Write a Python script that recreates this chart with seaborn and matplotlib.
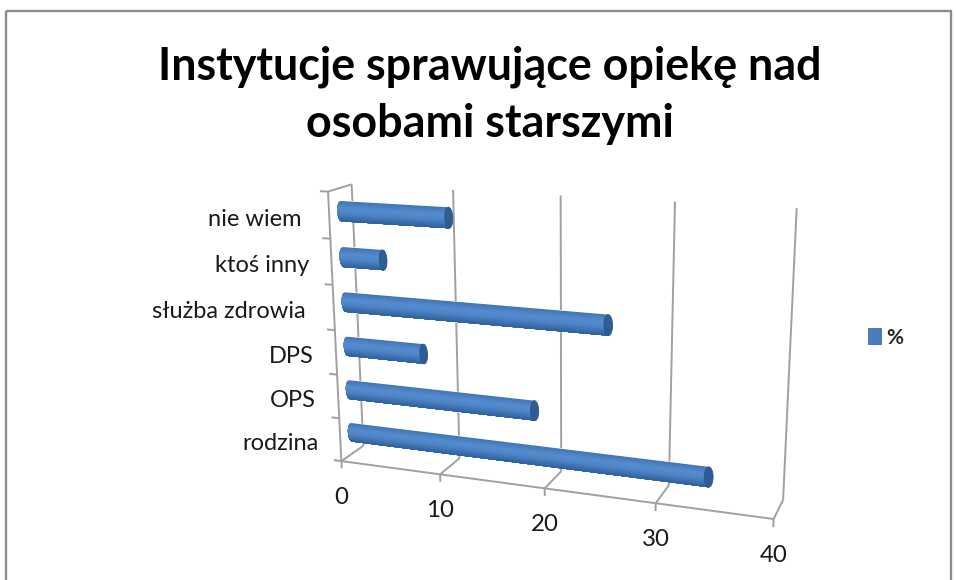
import numpy as np
import pandas as pd
import matplotlib
matplotlib.use("Agg")
import matplotlib.pyplot as plt
from matplotlib.colors import LinearSegmentedColormap
from matplotlib.patches import Patch, Polygon, Rectangle
from matplotlib.transforms import Transform
import seaborn as sns

categories = ["nie wiem ", "ktoś inny", "służba zdrowia ", "DPS", "OPS", "rodzina"]
values = [10.5, 4, 25, 7.7, 18.3, 34]
x_ticks = [0, 10, 20, 30, 40]
title = "Instytucje sprawujące opiekę nad\nosobami starszymi"

W, H = 956, 580
BAR = "#4a7ebb"
GRID = "#a0a0a0"

# camera of the fake 3D chart, fitted on the wall/floor corners (value, height, depth) -> pixels
world = [(0, 0, 0), (10, 0, 0), (20, 0, 0), (30, 0, 0), (40, 0, 0),
         (0, 0, 1), (10, 0, 1), (20, 0, 1), (30, 0, 1), (40, 0, 1),
         (0, 6, 1), (10, 6, 1), (20, 6, 1), (30, 6, 1), (40, 6, 1), (0, 6, 0)]
image = [(341.5, 462), (440, 475), (545, 488), (656, 503), (773, 518.5),
         (363, 445), (459, 458), (562, 472), (669, 483), (783, 502),
         (352, 185), (453, 190), (560, 195), (675, 202), (797, 208), (328, 191)]
rows = []
for (a, b, c), (u, v) in zip(world, image):
    rows.append([a, b, c, 1, 0, 0, 0, 0, -u * a, -u * b, -u * c, -u])
    rows.append([0, 0, 0, 0, a, b, c, 1, -v * a, -v * b, -v * c, -v])
cam = np.linalg.svd(np.array(rows, dtype=float))[2][-1].reshape(3, 4)


def project(a, b, c):
    p = cam @ np.array([a, b, c, np.ones_like(a)], dtype=float)
    return p[0] / p[2], p[1] / p[2]


class Persp(Transform):
    """value / category position -> display pixels, in the plane of the bars"""
    input_dims = output_dims = 2
    is_affine = False
    plane = 0.5

    def transform_non_affine(self, xy):
        xy = np.asarray(xy, dtype=float)
        u, v = project(xy[:, 0], 5.5 - xy[:, 1], np.full(len(xy), self.plane))
        return np.column_stack([u, H - v])


sns.set_theme(style="white")
plt.rcParams["font.family"] = ["Lato", "DejaVu Sans"]

fig = plt.figure(figsize=(W / 100, H / 100), dpi=100, facecolor="white")
ax = fig.add_axes([0, 0, 1, 1])
df = pd.DataFrame({"kategoria": categories, "procent": values})
sns.barplot(data=df, x="procent", y="kategoria", orient="h", color=BAR, width=0.44,
            saturation=1, ax=ax, zorder=3)
ax.set_axis_off()
bars = list(ax.patches)

# everything below is drawn in picture pixels
ax.set_xlim(0, W)
ax.set_ylim(H, 0)

ax.add_patch(Rectangle((6, 11), 945, 600, fill=False, ec="#8c8c8c", lw=1.7, clip_on=False))


def line3d(a, b, **kw):
    u0, v0 = project(*map(float, a))
    u1, v1 = project(*map(float, b))
    kw.setdefault("color", GRID)
    kw.setdefault("lw", 1.4)
    ax.plot([u0, u1], [v0, v1], zorder=1, solid_capstyle="butt", **kw)


# walls and ticks
line3d((0, 0, 0), (0, 6, 0))
line3d((0, 0, 0), (40, 0, 0))
line3d((0, 6, 0), (0, 6, 1))
for t in x_ticks:
    line3d((t, 0, 1), (t, 6, 1))
    line3d((t, 0, 0), (t, 0, 1))
    line3d((t, 0, 0), (t, -0.17, 0))
    u, v = project(float(t), 0.0, 0.0)
    ax.text(u, v + 36, str(t), ha="center", va="center", fontsize=17.3, color="#1a1a1a")
for h in range(7):
    line3d((0, h, 0), (-0.8, h, 0))

# category labels, right aligned along the slanted axis
for i, name in enumerate(categories):
    u, v = project(0.0, 5.5 - i, 0.0)
    ax.text(u - 22, v + 4, name, ha="right", va="center", fontsize=17, color="#1a1a1a")

# turn the seaborn bars into shaded cylinders: each layer paints from its level down to the
# bottom of the bar, so the steps of the gradient leave no seams
shade = LinearSegmentedColormap.from_list(
    "cyl", [(0, "#4277b6"), (0.35, "#568dd0"), (0.6, "#4d84c6"), (1, "#2f5f98")])
persp = Persp()
CAP = 0.38
t_ell = np.linspace(0, 2 * np.pi, 60)
for bar in bars:
    v, y0, th = bar.get_width(), bar.get_y(), bar.get_height()
    yc = y0 + th / 2
    bar.set_transform(persp)
    bar.set_clip_on(False)
    for k, level in enumerate(np.linspace(0, 1, 30, endpoint=False)):
        ys = np.linspace(y0 + level * th, y0 + th, 30)
        left = -CAP * np.sqrt(np.clip(1 - ((ys - yc) / (th / 2)) ** 2, 0, 1))
        outline = np.vstack([np.column_stack([left, ys]), [v, y0 + th], [v, ys[0]]])
        ax.add_patch(Polygon(outline, closed=True, fc=shade(level), ec="none", transform=persp,
                             clip_on=False, zorder=4))
    cap = np.column_stack([v + CAP * np.cos(t_ell), yc + th / 2 * np.sin(t_ell)])
    ax.add_patch(Polygon(cap, closed=True, fc="#2f5d93", ec="#2a5488", lw=0.6, transform=persp,
                         clip_on=False, zorder=5))

ax.set_xlim(0, W)
ax.set_ylim(H, 0)

fig.text(490 / W, 1 - 95 / H, title, ha="center", va="center", fontsize=32.3, fontweight="bold",
         color="black", linespacing=1.45)
fig.legend(handles=[Patch(fc=BAR, ec="none")], labels=["%"], loc="center left",
           bbox_to_anchor=(868 / W, 1 - 338 / H), frameon=False,
           prop={"size": 15, "weight": "bold"},
           handlelength=0.68, handleheight=0.9, handletextpad=0.2, borderpad=0, borderaxespad=0)
fig.savefig("out.png", dpi=100)
